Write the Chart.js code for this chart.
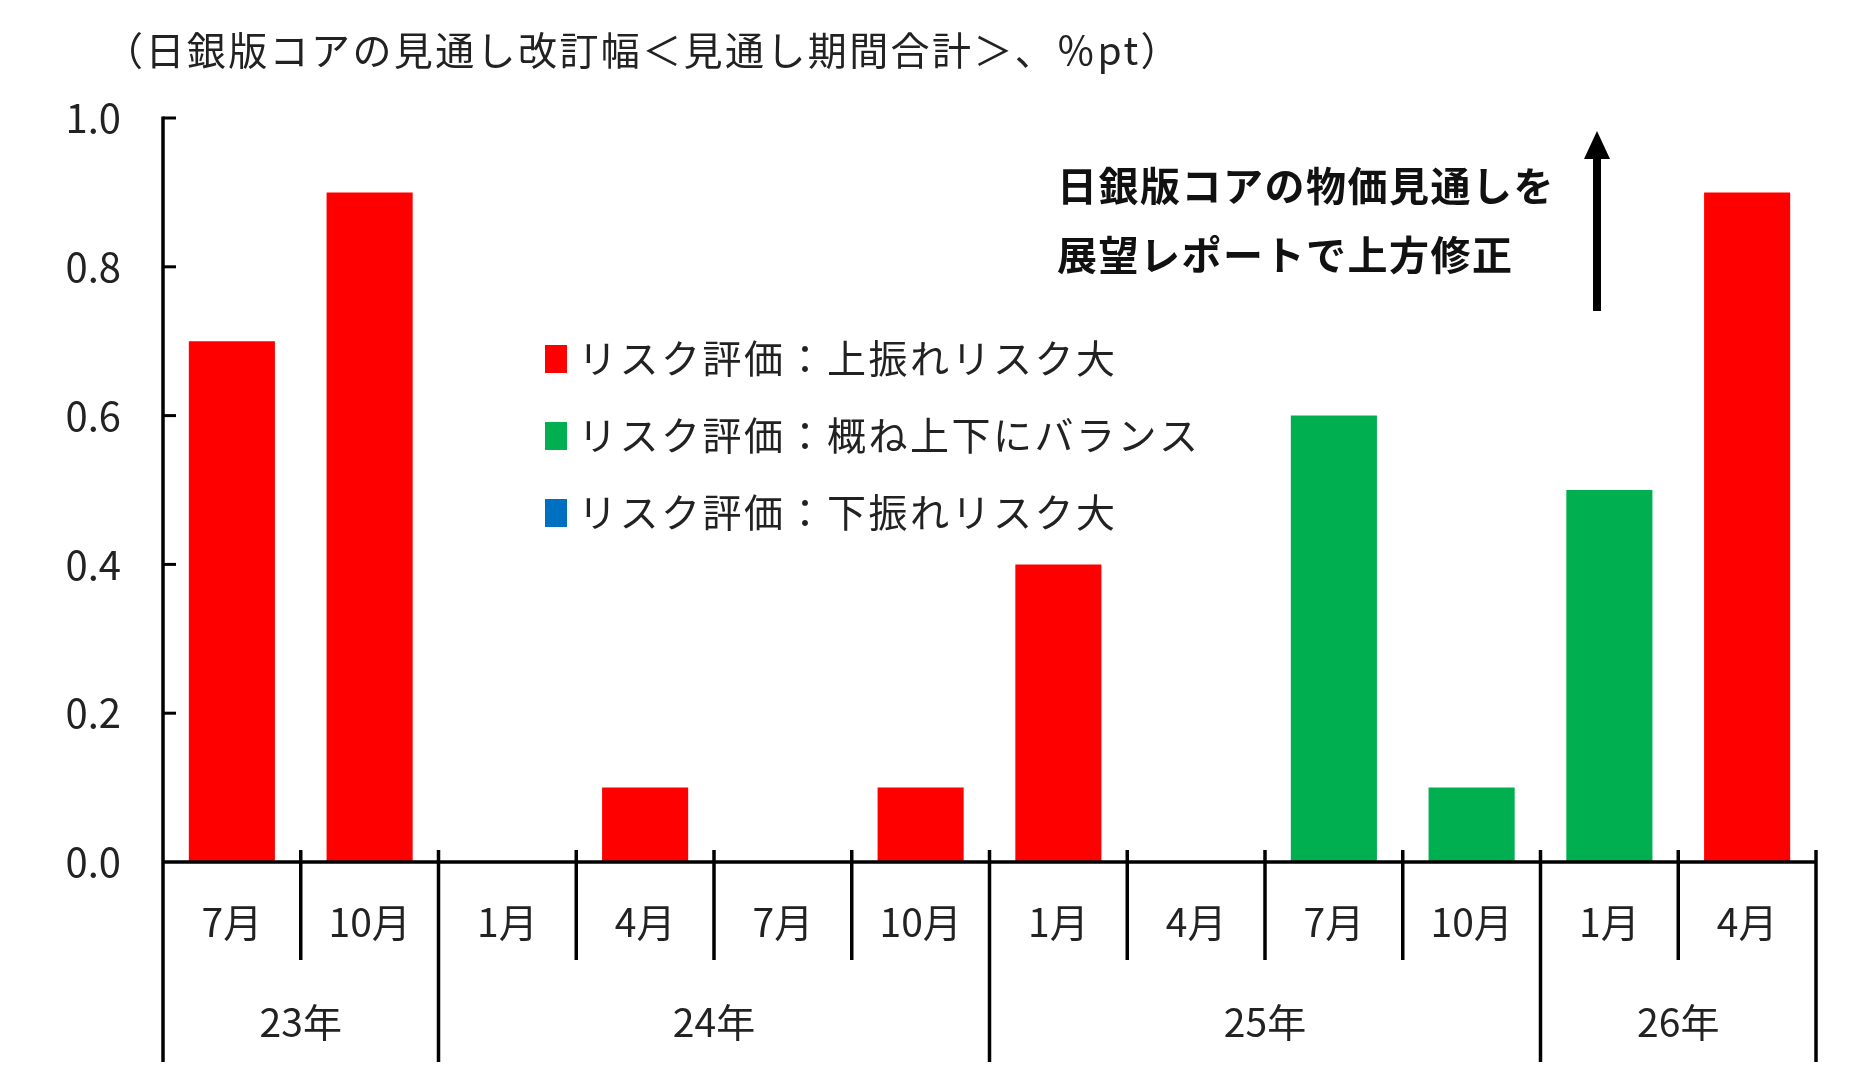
<!DOCTYPE html>
<html>
<head>
<meta charset="utf-8">
<script src="https://cdn.jsdelivr.net/npm/chart.js@4.4.1/dist/chart.umd.min.js"></script>
<style>
  html, body { margin: 0; padding: 0; background: #fff; }
  #wrap { width: 1859px; height: 1080px; }
</style>
</head>
<body>
<div id="wrap"><canvas id="revisionChart" width="1859" height="1080"></canvas></div>
<script>
// months (x categories) and the year row under them
const months = ['7月', '10月', '1月', '4月', '7月', '10月', '1月', '4月', '7月', '10月', '1月', '4月'];
const years = ['23年', '24年', '25年', '26年'];
const yearSpans = [2, 4, 4, 2]; // how many months each year covers

// revision width by risk assessment (%pt)
const upsideRisk = [0.7, 0.9, null, 0.1, null, 0.1, 0.4, null, null, null, null, 0.9];
const balancedRisk = [null, null, null, null, null, null, null, null, 0.6, 0.1, 0.5, null];
const downsideRisk = [null, null, null, null, null, null, null, null, null, null, null, null];

const yTicks = [0, 0.2, 0.4, 0.6, 0.8, 1.0];

const titleText = '（日銀版コアの見通し改訂幅＜見通し期間合計＞、％pt）';
const noteLines = ['日銀版コアの物価見通しを', '展望レポートで上方修正'];

const FONT = '"Noto Sans CJK JP", "Noto Sans", sans-serif';

// draws the axes, two-level x labels, legend, title and the note
const decorPlugin = {
    id: 'decor',
    afterDraw(chart) {
        const ctx = chart.ctx;
        const x = chart.scales.x;
        const y = chart.scales.y;
        const area = chart.chartArea;
        const zeroY = y.getPixelForValue(0);
        const monthBottom = 960;
        const yearBottom = 1062;
        const tickTop = zeroY - 12;

        const n = months.length;
        const step = (x.getPixelForValue(n - 1) - x.getPixelForValue(0)) / (n - 1);
        const edge = i => x.getPixelForValue(0) - step / 2 + i * step;

        ctx.save();
        ctx.strokeStyle = '#000';
        ctx.lineCap = 'butt';

        // y axis line and inward ticks
        ctx.lineWidth = 3.5;
        ctx.beginPath();
        ctx.moveTo(area.left, y.getPixelForValue(1.0) - 1.5);
        ctx.lineTo(area.left, yearBottom);
        ctx.stroke();
        ctx.lineWidth = 3;
        yTicks.forEach(v => {
            if (v === 0) return;
            const py = y.getPixelForValue(v);
            ctx.beginPath();
            ctx.moveTo(area.left, py);
            ctx.lineTo(area.left + 13, py);
            ctx.stroke();
        });

        // zero line
        ctx.lineWidth = 3.5;
        ctx.beginPath();
        ctx.moveTo(area.left, zeroY);
        ctx.lineTo(edge(n), zeroY);
        ctx.stroke();

        // separators
        const yearEdges = [0];
        yearSpans.forEach(s => yearEdges.push(yearEdges[yearEdges.length - 1] + s));
        for (let i = 1; i <= n; i++) {
            const px = edge(i);
            const isYear = yearEdges.includes(i);
            ctx.beginPath();
            ctx.moveTo(px, tickTop);
            ctx.lineTo(px, isYear ? yearBottom : monthBottom);
            ctx.stroke();
        }

        // month labels
        ctx.fillStyle = '#222';
        ctx.textAlign = 'center';
        ctx.textBaseline = 'middle';
        ctx.font = '39px ' + FONT;
        months.forEach((m, i) => {
            ctx.fillText(m, x.getPixelForValue(i), 922);
        });

        // year labels
        years.forEach((yr, i) => {
            const cx = (edge(yearEdges[i]) + edge(yearEdges[i + 1])) / 2;
            ctx.fillText(yr, cx, 1022);
        });

        // title
        ctx.textAlign = 'left';
        ctx.font = '39px ' + FONT;
        ctx.letterSpacing = '2.4px';
        ctx.fillText(titleText, 104, 50);

        // legend
        ctx.letterSpacing = '2.5px';
        chart.data.datasets.forEach((ds, i) => {
            const cy = 358 + i * 77;
            ctx.fillStyle = ds.backgroundColor;
            ctx.fillRect(545, cy - 13, 22, 28);
            ctx.fillStyle = '#222';
            ctx.fillText(ds.label, 578, cy);
        });

        // note text
        ctx.fillStyle = '#111';
        ctx.font = 'bold 40px ' + FONT;
        ctx.letterSpacing = '1.5px';
        noteLines.forEach((line, i) => {
            ctx.fillText(line, 1057, 186 + i * 69);
        });
        ctx.letterSpacing = '0px';

        // upward arrow
        const ax = 1597;
        ctx.lineWidth = 8;
        ctx.beginPath();
        ctx.moveTo(ax, 311);
        ctx.lineTo(ax, 152);
        ctx.stroke();
        ctx.fillStyle = '#000';
        ctx.beginPath();
        ctx.moveTo(ax, 131);
        ctx.lineTo(ax - 13, 159);
        ctx.lineTo(ax + 13, 159);
        ctx.closePath();
        ctx.fill();

        ctx.restore();
    }
};

const ctx = document.getElementById('revisionChart').getContext('2d');
const chart = new Chart(ctx, {
    type: 'bar',
    data: {
        labels: months,
        datasets: [
            { label: 'リスク評価：上振れリスク大', data: upsideRisk, backgroundColor: '#FF0000' },
            { label: 'リスク評価：概ね上下にバランス', data: balancedRisk, backgroundColor: '#00B050' },
            { label: 'リスク評価：下振れリスク大', data: downsideRisk, backgroundColor: '#0070C0' }
        ]
    },
    options: {
        responsive: false,
        animation: false,
        layout: {
            padding: { top: 118, right: 43, bottom: 218, left: 0 }
        },
        datasets: {
            bar: { categoryPercentage: 1.0, barPercentage: 0.625, borderWidth: 0 }
        },
        plugins: {
            legend: { display: false },
            tooltip: { enabled: false }
        },
        scales: {
            x: {
                display: false,
                stacked: true
            },
            y: {
                stacked: true,
                min: 0,
                max: 1.0,
                afterFit: scale => { scale.width = 163; },
                afterBuildTicks: scale => {
                    scale.ticks = yTicks.map(v => ({ value: v }));
                },
                border: { display: false },
                grid: { display: false, drawTicks: false },
                ticks: {
                    padding: 42,
                    color: '#222',
                    font: { family: FONT, size: 40 },
                    callback: v => v.toFixed(1)
                }
            }
        }
    },
    plugins: [decorPlugin]
});
</script>
</body>
</html>
